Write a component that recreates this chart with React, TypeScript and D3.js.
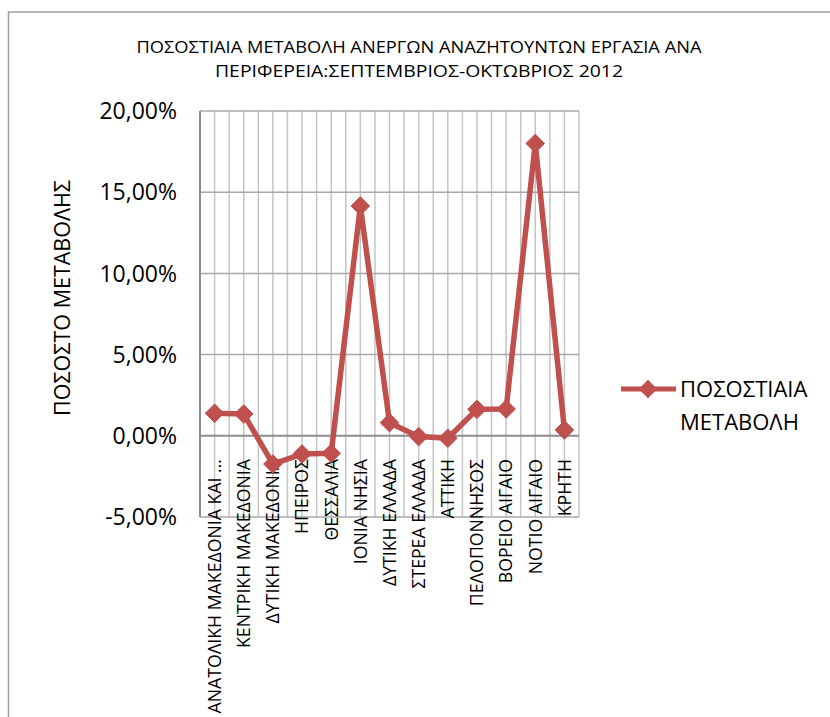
import React from "react";
import * as d3 from "d3";

const categories = [
  "ΑΝΑΤΟΛΙΚΗ ΜΑΚΕΔΟΝΙΑ ΚΑΙ ...",
  "ΚΕΝΤΡΙΚΗ ΜΑΚΕΔΟΝΙΑ",
  "ΔΥΤΙΚΗ ΜΑΚΕΔΟΝΙΑ",
  "ΗΠΕΙΡΟΣ",
  "ΘΕΣΣΑΛΙΑ",
  "ΙΟΝΙΑ ΝΗΣΙΑ",
  "ΔΥΤΙΚΗ ΕΛΛΑΔΑ",
  "ΣΤΕΡΕΑ ΕΛΛΑΔΑ",
  "ΑΤΤΙΚΗ",
  "ΠΕΛΟΠΟΝΝΗΣΟΣ",
  "ΒΟΡΕΙΟ ΑΙΓΑΙΟ",
  "ΝΟΤΙΟ ΑΙΓΑΙΟ",
  "ΚΡΗΤΗ",
];

const values = [
  0.0139, 0.0134, -0.0174, -0.0112, -0.0108, 0.1415, 0.0081, -0.0005, -0.0015,
  0.0163, 0.0165, 0.18, 0.0036,
];

const yTicks = [-0.05, 0, 0.05, 0.1, 0.15, 0.2];

const titleLines = [
  "ΠΟΣΟΣΤΙΑΙΑ ΜΕΤΑΒΟΛΗ ΑΝΕΡΓΩΝ ΑΝΑΖΗΤΟΥΝΤΩΝ ΕΡΓΑΣΙΑ ΑΝΑ",
  "ΠΕΡΙΦΕΡΕΙΑ:ΣΕΠΤΕΜΒΡΙΟΣ-ΟΚΤΩΒΡΙΟΣ 2012",
];
const yAxisTitle = "ΠΟΣΟΣΤΟ ΜΕΤΑΒΟΛΗΣ";
const seriesName = ["ΠΟΣΟΣΤΙΑΙΑ", "ΜΕΤΑΒΟΛΗ"];

const W = 830;
const H = 717;
const FONT = "'Open Sans', 'Noto Sans', sans-serif";
const RED = "#c0504d";

export default function App() {
  const plotL = 200;
  const plotR = 579;
  const plotT = 111;
  const plotB = 517;

  const x = d3.scaleBand<string>().domain(categories).range([plotL, plotR]);
  const y = d3.scaleLinear().domain([-0.05, 0.2]).range([plotB, plotT]);
  const cx = (c: string) => (x(c) as number) + x.bandwidth() / 2;

  const fmt = (v: number) =>
    d3
      .format(".2f")(v * 100)
      .replace(".", ",")
      .replace("\u2212", "-") + "%";

  const line = d3
    .line<number>()
    .x((_, i) => cx(categories[i]))
    .y((d) => y(d));

  const vLines: number[] = [];
  categories.forEach((c) => {
    vLines.push(x(c) as number);
    vLines.push(cx(c));
  });
  vLines.push(plotR);

  const diamond = d3.symbol().type(d3.symbolDiamond2).size(220)();
  const labelTop = 459;

  return (
    <svg
      width={W}
      height={H}
      style={{ position: "absolute", left: 0, top: 0, background: "#fff" }}
      fontFamily={FONT}
    >
      <rect x={0} y={0} width={W} height={H} fill="#fff" />
      {/* outer chart border */}
      <path
        d={`M8.5,${H + 5} V12 H${W + 5}`}
        fill="none"
        stroke="#a0a0a0"
        strokeWidth={1.5}
      />
      {/* title */}
      {titleLines.map((t, i) => (
        <text
          key={i}
          x={419}
          y={53 + i * 24}
          textAnchor="middle"
          fontSize={17}
          fill="#000"
          textLength={i === 0 ? 565 : 408}
          lengthAdjust="spacingAndGlyphs"
        >
          {t}
        </text>
      ))}

      {/* vertical gridlines */}
      {vLines.map((v, i) => (
        <line
          key={"v" + i}
          x1={v}
          x2={v}
          y1={plotT}
          y2={plotB}
          stroke="#c4c4c4"
          strokeWidth={1.5}
        />
      ))}
      {/* horizontal gridlines */}
      {yTicks.map((t) => (
        <line
          key={"h" + t}
          x1={plotL}
          x2={plotR}
          y1={y(t)}
          y2={y(t)}
          stroke={t === 0 ? "#8c8c8c" : "#a8a8a8"}
          strokeWidth={t === 0 ? 2 : 1.5}
        />
      ))}
      {/* y axis line */}
      <line
        x1={plotL}
        x2={plotL}
        y1={plotT}
        y2={plotB}
        stroke="#8c8c8c"
        strokeWidth={2}
      />

      {/* y tick labels */}
      {yTicks.map((t) => (
        <text
          key={"yt" + t}
          x={177}
          y={y(t)}
          dy="0.36em"
          textAnchor="end"
          fontSize={23}
          fill="#000"
        >
          {fmt(t)}
        </text>
      ))}

      {/* y axis title */}
      <text
        transform={`translate(62,${298}) rotate(-90)`}
        textAnchor="middle"
        dy="0.36em"
        fontSize={21.5}
        fill="#000"
      >
        {yAxisTitle}
      </text>

      {/* category labels */}
      {categories.map((c) => (
        <text
          key={"c" + c}
          transform={`translate(${cx(c)},${labelTop}) rotate(-90)`}
          textAnchor="end"
          dy="0.36em"
          fontSize={17.7}
          fill="#000"
        >
          {c}
        </text>
      ))}

      {/* series line */}
      <path
        d={line(values) || ""}
        fill="none"
        stroke={RED}
        strokeWidth={5.5}
        strokeLinejoin="round"
      />
      {values.map((v, i) => (
        <path
          key={"m" + i}
          d={diamond || ""}
          transform={`translate(${cx(categories[i])},${y(v)})`}
          fill={RED}
          stroke={RED}
          strokeWidth={1}
        />
      ))}

      {/* legend */}
      <line
        x1={621}
        x2={676}
        y1={389}
        y2={389}
        stroke={RED}
        strokeWidth={5}
      />
      <path d={diamond || ""} transform="translate(648,389)" fill={RED} />
      {seriesName.map((s, i) => (
        <text
          key={"l" + i}
          x={680}
          y={389 + i * 33}
          dy="0.36em"
          fontSize={22}
          fill="#000"
        >
          {s}
        </text>
      ))}
    </svg>
  );
}
